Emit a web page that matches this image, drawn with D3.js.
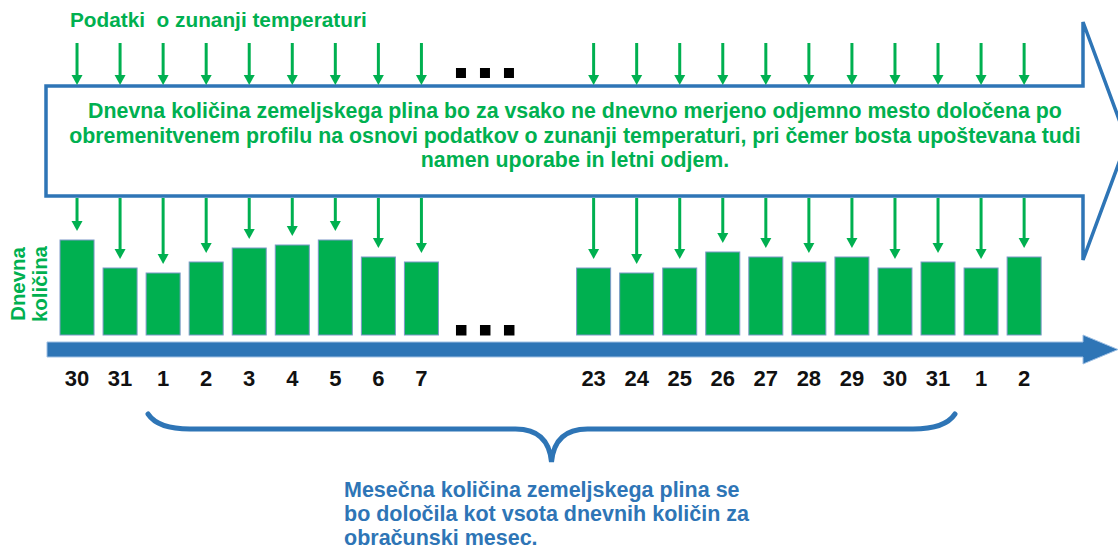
<!DOCTYPE html>
<html>
<head>
<meta charset="utf-8">
<script src="https://cdn.jsdelivr.net/npm/d3@7"></script>
<style>
  body { margin: 0; background: #fff; }
  text { font-family: "Liberation Sans", Arial, sans-serif; font-weight: bold; }
</style>
</head>
<body>
<svg width="1118" height="551"></svg>
<script>
// Days shown on the time axis (end of previous month, start of month ... end of month, next month)
var dayLabels = ["30", "31", "1", "2", "3", "4", "5", "6", "7",
                 "23", "24", "25", "26", "27", "28", "29", "30", "31", "1", "2"];
// Daily quantity (relative units)
var dailyAmount = [95, 67, 62, 73, 87, 90, 95, 78, 73,
                   67, 62, 67, 83, 78, 73, 78, 67, 73, 67, 78];
// the "..." break sits after the 9th day and takes 3 empty slots
var gapAfter = 9, gapSlots = 3;

var titleText = "Podatki  o zunanji temperaturi";
var boxLines = [
  "Dnevna količina zemeljskega plina bo za vsako ne dnevno merjeno odjemno mesto določena po",
  "obremenitvenem profilu na osnovi podatkov o zunanji temperaturi, pri čemer bosta upoštevana tudi",
  "namen uporabe in letni odjem."
];
var yLabelLines = ["Dnevna", "količina"];
var noteLines = [
  "Mesečna količina zemeljskega plina se",
  "bo določila kot vsota dnevnih količin za",
  "obračunski mesec."
];

var green = "#00b050", blue = "#2e75b6";

var svg = d3.select("svg"),
    width = +svg.attr("width"),
    height = +svg.attr("height");

var nSlots = dayLabels.length + gapSlots;
function slotOf(i) { return i < gapAfter ? i : i + gapSlots; }

// band scale over all slots (gap included)
var x = d3.scaleBand()
    .domain(d3.range(nSlots))
    .range([55.5, 55.5 + nSlots * 43.05])
    .paddingInner(0.21)
    .paddingOuter(0.105);

var y = d3.scaleLinear()
    .domain([0, 100])
    .range([335, 235]);

var days = dayLabels.map(function(d, i) {
  return { label: d, value: dailyAmount[i], slot: slotOf(i) };
});
function cx(d) { return x(d.slot) + x.bandwidth() / 2; }

// fit a block of lines so its widest line gets the given width
function fitBlock(sel, widest) {
  var maxW = 0;
  sel.each(function() { maxW = Math.max(maxW, this.getComputedTextLength()); });
  var fs = parseFloat(sel.attr("font-size"));
  sel.attr("font-size", fs * widest / maxW);
}

//////////////////////////////
// Big outlined arrow (the box)
var boxTop = 86, boxBottom = 196, boxLeft = 46, boxRight = 1083;
svg.append("path")
    .attr("d", "M" + boxLeft + "," + boxTop + "H" + boxRight + "V22L1127,141L" + boxRight + ",260V" + boxBottom + "H" + boxLeft + "Z")
    .attr("fill", "#fff")
    .attr("stroke", blue)
    .attr("stroke-width", 3.5);

// green arrow: shaft + head
function arrow(g, x0, y0, y1) {
  g.append("line")
      .attr("x1", x0).attr("x2", x0)
      .attr("y1", y0).attr("y2", y1 - 8)
      .attr("stroke", green)
      .attr("stroke-width", 3);
  g.append("path")
      .attr("d", "M" + (x0 - 5.5) + "," + (y1 - 10) + "L" + (x0 + 5.5) + "," + (y1 - 10) + "L" + x0 + "," + y1 + "Z")
      .attr("fill", green);
}

// arrows from the temperature data into the box
var topArrows = svg.append("g").attr("class", "top-arrows");
days.forEach(function(d) { arrow(topArrows, cx(d), 43, boxTop - 1); });

// arrows from the box onto the bars
var lowArrows = svg.append("g").attr("class", "low-arrows");
days.forEach(function(d) { arrow(lowArrows, cx(d), boxBottom + 2, y(d.value) - 9); });

// bars
svg.append("g")
    .attr("class", "bars")
    .selectAll("rect")
    .data(days)
    .enter().append("rect")
    .attr("x", function(d) { return x(d.slot); })
    .attr("y", function(d) { return y(d.value); })
    .attr("width", x.bandwidth())
    .attr("height", function(d) { return y(0) - y(d.value); })
    .attr("fill", green)
    .attr("stroke", "#7d98c8")
    .attr("stroke-width", 1);

// "..." markers at the gap
var dotX = x(gapAfter) + 8.5;
[0, 1, 2].forEach(function(k) {
  svg.append("rect").attr("x", dotX + k * 24).attr("y", 68).attr("width", 10).attr("height", 10).attr("fill", "#000");
  svg.append("rect").attr("x", dotX + k * 24).attr("y", 325).attr("width", 10.5).attr("height", 10.5).attr("fill", "#000");
});

// time axis (solid blue arrow)
svg.append("path")
    .attr("d", "M47,342H1083V335L1118,349.5L1083,364V357H47Z")
    .attr("fill", blue)
    .attr("stroke", "#9fc0e4")
    .attr("stroke-width", 1);

// day labels
svg.append("g")
    .attr("class", "day-labels")
    .selectAll("text")
    .data(days)
    .enter().append("text")
    .attr("x", cx)
    .attr("y", 386)
    .attr("text-anchor", "middle")
    .attr("font-size", 22)
    .attr("fill", "#111")
    .text(function(d) { return d.label; });

//////////////////////////////
// Texts
var title = svg.append("text")
    .attr("x", 70).attr("y", 27)
    .attr("font-size", 18)
    .attr("fill", green)
    .attr("xml:space", "preserve")
    .style("white-space", "pre")
    .text(titleText);
fitBlock(title, 297);

var boxText = svg.append("g").selectAll("text")
    .data(boxLines)
    .enter().append("text")
    .attr("x", 575)
    .attr("y", function(d, i) { return 118 + i * 24.5; })
    .attr("text-anchor", "middle")
    .attr("font-size", 18)
    .attr("fill", green)
    .text(function(d) { return d; });
fitBlock(boxText, 1012);

var yLab = svg.append("g").selectAll("text")
    .data(yLabelLines)
    .enter().append("text")
    .attr("transform", function(d, i) { return "translate(" + (25 + i * 22) + ",284) rotate(-90)"; })
    .attr("text-anchor", "middle")
    .attr("font-size", 18)
    .attr("fill", green)
    .text(function(d) { return d; });
fitBlock(yLab, 76);

// curly brace under the month
var braceY = 429, braceL = 148, braceR = 955, braceM = (braceL + braceR) / 2;
svg.append("path")
    .attr("d", "M" + braceL + ",414Q" + (braceL + 10) + "," + braceY + " " + (braceL + 42) + "," + braceY +
               "L" + (braceM - 36) + "," + braceY + "Q" + (braceM - 3) + "," + braceY + " " + braceM + ",462" +
               "Q" + (braceM + 3) + "," + braceY + " " + (braceM + 36) + "," + braceY +
               "L" + (braceR - 42) + "," + braceY + "Q" + (braceR - 10) + "," + braceY + " " + braceR + ",414")
    .attr("fill", "none")
    .attr("stroke", blue)
    .attr("stroke-width", 5)
    .attr("stroke-linecap", "round");

var note = svg.append("g").selectAll("text")
    .data(noteLines)
    .enter().append("text")
    .attr("x", 344)
    .attr("y", function(d, i) { return 497 + i * 24; })
    .attr("font-size", 18)
    .attr("fill", blue)
    .text(function(d) { return d; });
fitBlock(note, 405);
</script>
</body>
</html>
